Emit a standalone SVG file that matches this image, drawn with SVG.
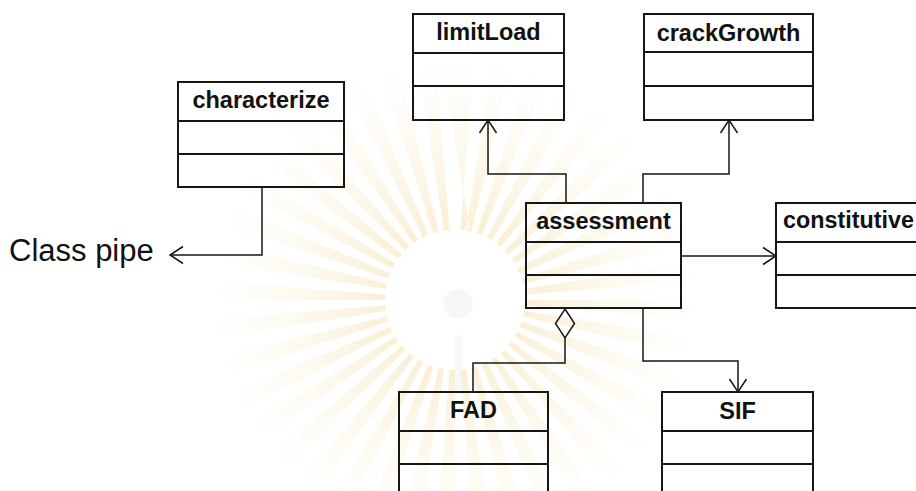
<svg xmlns="http://www.w3.org/2000/svg" width="916" height="491" viewBox="0 0 916 491">
  <style>
    .box { fill: none; stroke: #161616; stroke-width: 2; }
    .sep { stroke: #161616; stroke-width: 2; }
    .name { font-family: "Liberation Sans", Arial, sans-serif; font-weight: bold; font-size: 23.5px; fill: #111; text-anchor: middle; }
    .label { font-family: "Liberation Sans", Arial, sans-serif; font-size: 31px; fill: #111; }
    .link { fill: none; stroke: #161616; stroke-width: 1.5; }
  </style>
  <defs>
    <marker id="open-arrow" markerUnits="userSpaceOnUse" markerWidth="20" markerHeight="24" refX="15" refY="10" orient="auto" viewBox="0 0 20 20">
      <path d="M2 1.5 L15 10 L2 18.5" fill="none" stroke="#161616" stroke-width="1.5"/>
    </marker>
    <radialGradient id="ray-fade" gradientUnits="userSpaceOnUse" cx="455" cy="300" r="250">
      <stop offset="0.28" stop-color="#efc25e" stop-opacity="0.26"/>
      <stop offset="0.55" stop-color="#f2cf7c" stop-opacity="0.16"/>
      <stop offset="1" stop-color="#f6dfa0" stop-opacity="0"/>
    </radialGradient>
  </defs>

  <rect width="916" height="491" fill="#ffffff"/>

  <!-- faint sunburst emblem in the background -->
  <g id="emblem">
    <circle cx="455" cy="300" r="160" fill="none" stroke="url(#ray-fade)" stroke-width="180" pathLength="400" stroke-dasharray="5 5"/>
    <circle cx="458" cy="304" r="15" fill="#ededed" opacity="0.45"/>
    <rect x="455" y="335" width="7" height="60" fill="#efefef" opacity="0.45"/>
  </g>

  <!-- connectors -->
  <g id="connectors">
    <path class="link" d="M262 187 V255 H170" marker-end="url(#open-arrow)"/>
    <path class="link" d="M566 203 V174 H488 V120" marker-end="url(#open-arrow)"/>
    <path class="link" d="M643 203 V174 H729 V120" marker-end="url(#open-arrow)"/>
    <path class="link" d="M681 256 H776" marker-end="url(#open-arrow)"/>
    <path class="link" d="M643 308 V361 H738 V392" marker-end="url(#open-arrow)"/>
    <path class="link" d="M565 338 V363 H473 V392"/>
    <path class="link" d="M565 309 L574.5 323.5 L565 338 L555.5 323.5 Z" fill="#ffffff"/>
  </g>

  <text class="label" x="9" y="261">Class pipe</text>

  <g id="limitLoad">
    <rect class="box" x="413" y="14" width="151" height="106"/>
    <line class="sep" x1="413" y1="53" x2="564" y2="53"/>
    <line class="sep" x1="413" y1="86" x2="564" y2="86"/>
    <text class="name" x="488.5" y="40">limitLoad</text>
  </g>

  <g id="crackGrowth">
    <rect class="box" x="644" y="14" width="169" height="106"/>
    <line class="sep" x1="644" y1="52" x2="813" y2="52"/>
    <line class="sep" x1="644" y1="86" x2="813" y2="86"/>
    <text class="name" x="728.5" y="41">crackGrowth</text>
  </g>

  <g id="characterize">
    <rect class="box" x="178" y="82" width="166" height="105"/>
    <line class="sep" x1="178" y1="121" x2="344" y2="121"/>
    <line class="sep" x1="178" y1="154" x2="344" y2="154"/>
    <text class="name" x="261" y="108">characterize</text>
  </g>

  <g id="assessment">
    <rect class="box" x="526" y="203" width="155" height="105"/>
    <line class="sep" x1="526" y1="242" x2="681" y2="242"/>
    <line class="sep" x1="526" y1="275" x2="681" y2="275"/>
    <text class="name" x="603.5" y="229">assessment</text>
  </g>

  <g id="constitutive">
    <rect class="box" x="776" y="203" width="152" height="105"/>
    <line class="sep" x1="776" y1="242" x2="928" y2="242"/>
    <line class="sep" x1="776" y1="275" x2="928" y2="275"/>
    <text class="name" x="783" y="228" style="text-anchor:start" textLength="131" lengthAdjust="spacingAndGlyphs">constitutive</text>
  </g>

  <g id="FAD">
    <rect class="box" x="399" y="392" width="149" height="120"/>
    <line class="sep" x1="399" y1="431" x2="548" y2="431"/>
    <line class="sep" x1="399" y1="464" x2="548" y2="464"/>
    <text class="name" x="473.5" y="418">FAD</text>
  </g>

  <g id="SIF">
    <rect class="box" x="662" y="392" width="151" height="120"/>
    <line class="sep" x1="662" y1="431" x2="813" y2="431"/>
    <line class="sep" x1="662" y1="464" x2="813" y2="464"/>
    <text class="name" x="737.5" y="419">SIF</text>
  </g>
</svg>
